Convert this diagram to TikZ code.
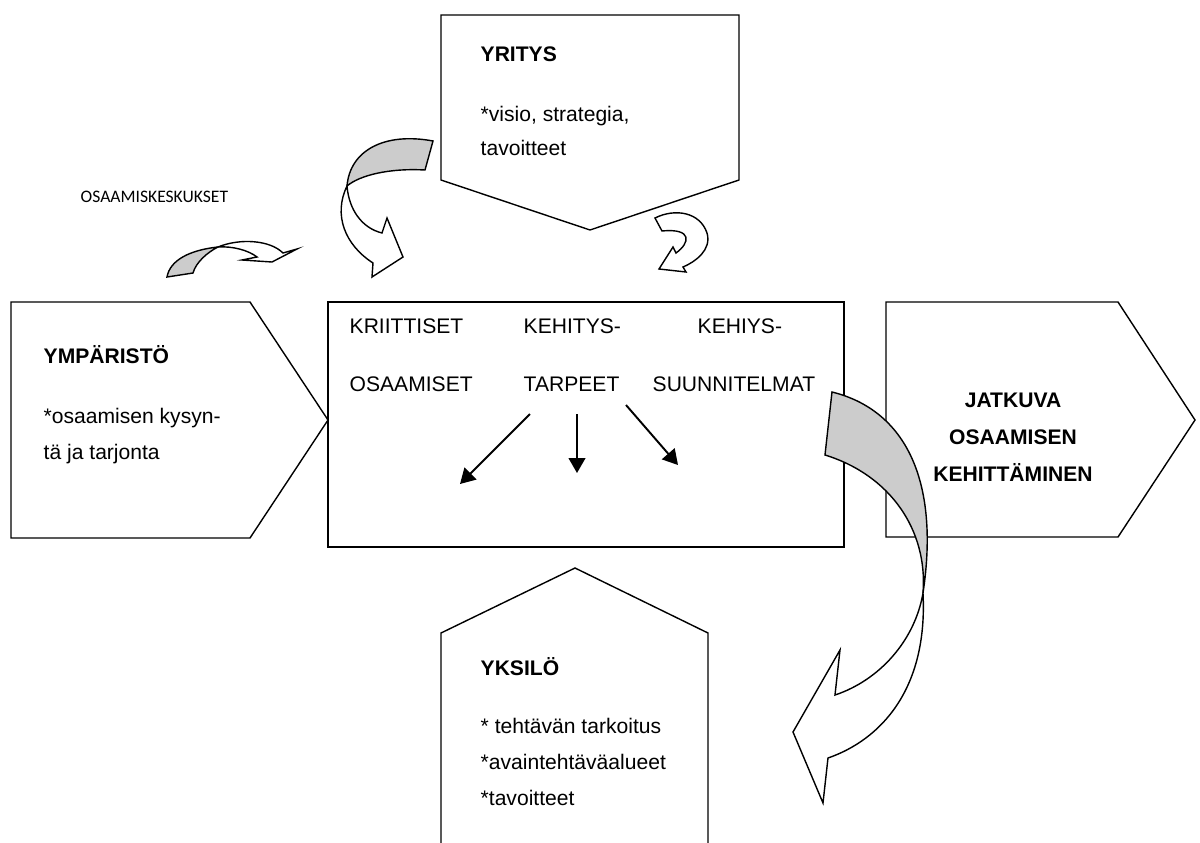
\documentclass[tikz,border=0pt]{standalone}
\usepackage{fontspec}
\setmainfont{Liberation Sans}
\newfontfamily\calibfont{Carlito}
\usetikzlibrary{arrows.meta}

\begin{document}
\begin{tikzpicture}[x=0.02cm,y=-0.02cm,line width=0.8pt,
  txt/.style={inner sep=0pt,anchor=base west,align=left,font=\fontsize{12}{20.4}\selectfont},
  ttl/.style={txt,font=\fontsize{12}{21}\selectfont\bfseries},
  band/.style={draw,fill=black!20},
  body/.style={draw,fill=white},
  arr/.style={-{Triangle[length=8.5pt,width=9.5pt]},line width=1.1pt}]
\clip (0,0) rectangle (1200,842);

% the five boxes
\draw (441,15) -- (739,15) -- (739,180) -- (590,230) -- (441,180) -- cycle;
\draw (11,302) -- (250,302) -- (328,420) -- (250,538) -- (11,538) -- cycle;
\draw (328,302) rectangle (844,547);
\draw (886,302) -- (1118,302) -- (1195,420) -- (1118,537) -- (886,537) -- cycle;
\draw (441,860) -- (441,633) -- (575,568) -- (708,633) -- (708,860);

% texts (multi-line ones sit on their last baseline)
\node[ttl] (Yt) at (480,61) {YRITYS};
\node[txt,font=\fontsize{12}{19.3}\selectfont] (Yb) at (480,155) {*visio, strategia,\\tavoitteet};
\node[inner sep=0pt,anchor=base west,font=\calibfont\fontsize{10}{12}\selectfont] (O) at (80,202) {OSAAMISKESKUKSET};
\node[ttl] (Et) at (43,363) {YMPÄRISTÖ};
\node[txt] (Eb) at (43,459) {*osaamisen kysyn-\\tä ja tarjonta};
\node[txt] (K1) at (349,333) {KRIITTISET};
\node[txt] (K2) at (349,391) {OSAAMISET};
\node[txt] (T1) at (523,333) {KEHITYS-};
\node[txt] (T2) at (523,391) {TARPEET};
\node[txt] (S1) at (697,333) {KEHIYS-};
\node[txt] (S2) at (652,391) {SUUNNITELMAT};
\node[ttl,align=center,anchor=base] (J) at (1013,481) {JATKUVA\\OSAAMISEN\\KEHITTÄMINEN};
\node[ttl] (It) at (480,675) {YKSILÖ};
\node[txt] (Ib) at (480,805) {* tehtävän tarkoitus\\*avaintehtäväalueet\\*tavoitteet};

% arrows out of the needs
\coordinate (a1) at (530,414);
\coordinate (b1) at (460,484);
\coordinate (a2) at (577,414);
\coordinate (b2) at (577,473);
\coordinate (a3) at (626,405);
\coordinate (b3) at (678,465);
\draw[arr] (a1) -- (b1);
\draw[arr] (a2) -- (b2);
\draw[arr] (a3) -- (b3);

% curved block arrows
% small one by OSAAMISKESKUKSET
\draw[band] (167,277) .. controls (170,260) and (190,250) .. (218,247)
  .. controls (208,252) and (196,262) .. (193,273) -- cycle;
\draw[body] (218,247) .. controls (240,238) and (270,240) .. (283,253)
  -- (297,249) -- (272,262) -- (242,260) -- (257,257)
  .. controls (248,250) and (232,246) .. (218,247) -- cycle;
% from YRITYS down to the middle box
\draw[band] (433,141) .. controls (385,132) and (350,150) .. (347,186)
  .. controls (360,175) and (390,168) .. (425,170) -- cycle;
\draw[body] (347,186) .. controls (333,215) and (345,245) .. (373,263)
  -- (372,277) -- (403,257) -- (387,218) -- (382,233)
  .. controls (362,228) and (349,210) .. (347,186) -- cycle;
% small turn under YRITYS
\draw[body] (655,218) .. controls (675,208) and (700,212) .. (707,233)
  .. controls (712,250) and (695,262) .. (683,267)
  -- (686,272) -- (659,269) -- (673,247) -- (676,253)
  .. controls (690,243) and (693,228) .. (662,231) -- cycle;
% big one on the right
\draw[band] (832,392) .. controls (905,410) and (940,480) .. (923,593)
  .. controls (928,530) and (890,475) .. (825,455) -- cycle;
\draw[body] (923,593) .. controls (928,690) and (880,740) .. (828,758)
  -- (823,803) -- (793,732) -- (840,650) -- (835,695)
  .. controls (880,680) and (915,640) .. (923,593) -- cycle;
\end{tikzpicture}
\end{document}
